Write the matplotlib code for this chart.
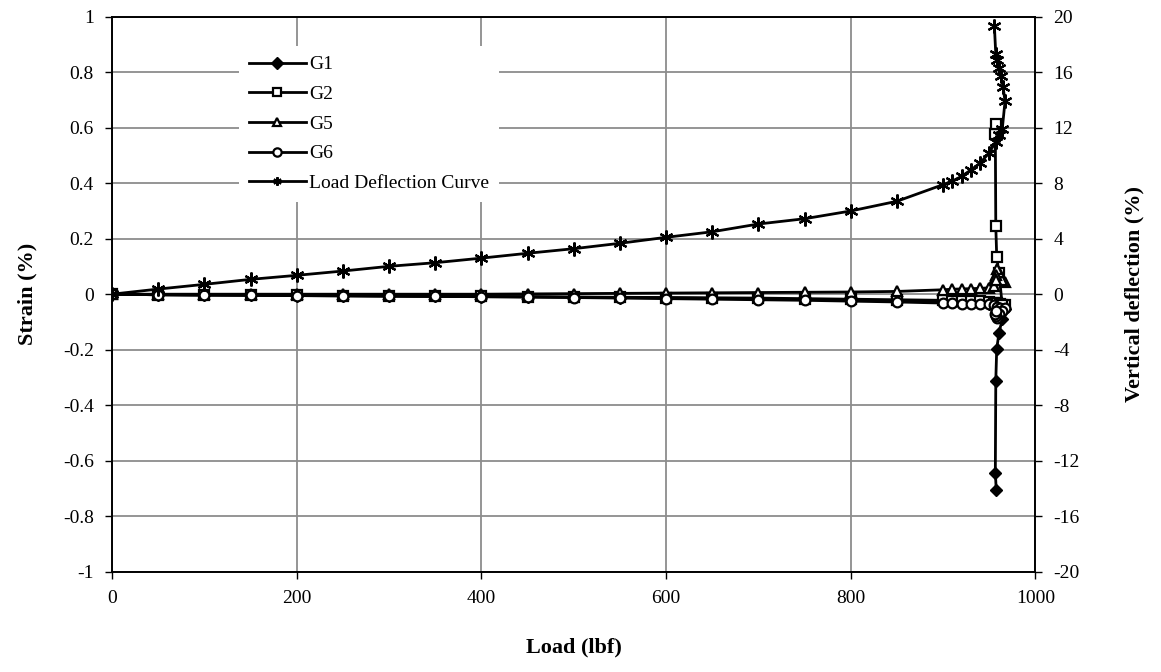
"""
Strain gauge readings and load-deflection curve vs applied load
"""

import numpy as np
import matplotlib
matplotlib.use('Agg')
import matplotlib.pyplot as plt
from matplotlib.ticker import MultipleLocator, FuncFormatter

plt.rcParams['font.family'] = ['Liberation Serif', 'DejaVu Serif']
plt.rcParams['axes.unicode_minus'] = False

# load steps for the strain gauges (lbf)
load_g = [0, 50, 100, 150, 200, 250, 300, 350, 400, 450, 500, 550, 600, 650,
          700, 750, 800, 850, 900, 910, 920, 930, 940, 950,
          955, 958, 962, 967, 964, 960.5, 958, 957, 956.5, 957.5]

# strain (%) per gauge
g1 = [0, -0.002, -0.003, -0.004, -0.005, -0.006, -0.007, -0.008, -0.009, -0.01,
      -0.011, -0.012, -0.013, -0.015, -0.017, -0.019, -0.021, -0.024,
      -0.028, -0.029, -0.03, -0.031, -0.033, -0.035,
      -0.04, -0.045, -0.05, -0.055, -0.09, -0.139, -0.197, -0.312, -0.643, -0.706]
g2 = [0, -0.002, -0.003, -0.003, -0.004, -0.005, -0.006, -0.007, -0.008, -0.009,
      -0.01, -0.011, -0.012, -0.013, -0.014, -0.016, -0.018, -0.02,
      -0.022, -0.023, -0.024, -0.025, -0.026, -0.027,
      -0.03, -0.032, -0.035, -0.04, -0.04, 0.075, 0.135, 0.246, 0.577, 0.612]
g5 = [0, 0, 0, 0, 0, 0, 0, 0, 0, 0.001, 0.002, 0.003, 0.004, 0.005, 0.006,
      0.007, 0.008, 0.01, 0.016, 0.018, 0.019, 0.02, 0.021, 0.023,
      0.03, 0.05, 0.06, 0.045, 0.05, 0.08, 0.09, 0.07, 0.06, 0.05]
g6 = [0, -0.002, -0.003, -0.004, -0.005, -0.006, -0.007, -0.008, -0.009, -0.01,
      -0.012, -0.014, -0.016, -0.018, -0.02, -0.022, -0.025, -0.028,
      -0.032, -0.033, -0.034, -0.035, -0.036, -0.037,
      -0.04, -0.045, -0.05, -0.05, -0.06, -0.07, -0.086, -0.08, -0.07, -0.06]

# load-deflection curve
load_d = [0, 50, 100, 150, 200, 250, 300, 350, 400, 450, 500, 550, 600, 650,
          700, 750, 800, 850, 900, 910, 920, 930, 940, 950,
          957, 961, 964, 967, 965, 962.5, 960.5, 958, 957, 955.5]
defl = [0, 0.37, 0.71, 1.07, 1.36, 1.67, 2.01, 2.27, 2.6, 2.95, 3.28, 3.67,
        4.1, 4.5, 5.06, 5.44, 6.0, 6.7, 7.9, 8.15, 8.5, 8.95, 9.45, 10.2,
        11.0, 11.5, 11.9, 13.9, 14.9, 15.7, 16.3, 16.9, 17.3, 19.3]

fig = plt.figure(figsize=(11.61, 6.72), dpi=100)
ax = fig.add_axes([0.0965, 0.1493, 0.7954, 0.8258])
ax2 = ax.twinx()

lw = 2.0
h1, = ax.plot(load_g, g1, color='black', lw=lw, marker='D', ms=6.5,
              mfc='black', mec='black', label='G1', zorder=3)
h2, = ax.plot(load_g, g2, color='black', lw=lw, marker='s', ms=7,
              mfc='white', mec='black', mew=1.6, label='G2', zorder=3)
h5, = ax.plot(load_g, g5, color='black', lw=lw, marker='^', ms=7,
              mfc='white', mec='black', mew=1.6, label='G5', zorder=3)
h6, = ax.plot(load_g, g6, color='black', lw=lw, marker='o', ms=7,
              mfc='white', mec='black', mew=1.6, label='G6', zorder=3)
hd, = ax2.plot(load_d, defl, color='black', lw=lw, marker=(6, 2, 0), ms=10,
               mec='black', mew=1.6, label='Load Deflection Curve')

ax.set_xlim(0, 1000)
ax.set_ylim(-1, 1)
ax2.set_ylim(-20, 20)
ax.xaxis.set_major_locator(MultipleLocator(200))
ax.yaxis.set_major_locator(MultipleLocator(0.2))
ax2.yaxis.set_major_locator(MultipleLocator(4))
ax.yaxis.set_major_formatter(FuncFormatter(lambda v, p: '{:g}'.format(round(v, 2))))
ax2.yaxis.set_major_formatter(FuncFormatter(lambda v, p: '{:g}'.format(round(v))))

ax.grid(True, color='#8c8c8c', lw=1.3)
ax.set_axisbelow(True)
for a in (ax, ax2):
    a.tick_params(direction='out', length=5, width=1, labelsize=14, pad=8)
    for s in a.spines.values():
        s.set_color('black')
        s.set_linewidth(1.2)

ax.set_xlabel('Load (lbf)', fontsize=16, fontweight='bold', labelpad=22)
ax.set_ylabel('Strain (%)', fontsize=16, fontweight='bold', labelpad=18)
ax2.set_ylabel('Vertical deflection (%)', fontsize=16, fontweight='bold', labelpad=32)

leg = ax2.legend(handles=[h1, h2, h5, h6, hd], loc='upper left',
                 bbox_to_anchor=(0.138, 0.947), fontsize=14, frameon=True,
                 fancybox=False, edgecolor='none', facecolor='white', framealpha=1,
                 handlelength=2.9, handletextpad=0.2, labelspacing=0.62,
                 borderpad=0.5, borderaxespad=0)
for line in leg.get_lines():
    line.set_markersize(6)

fig.savefig('out.png', dpi=100)
